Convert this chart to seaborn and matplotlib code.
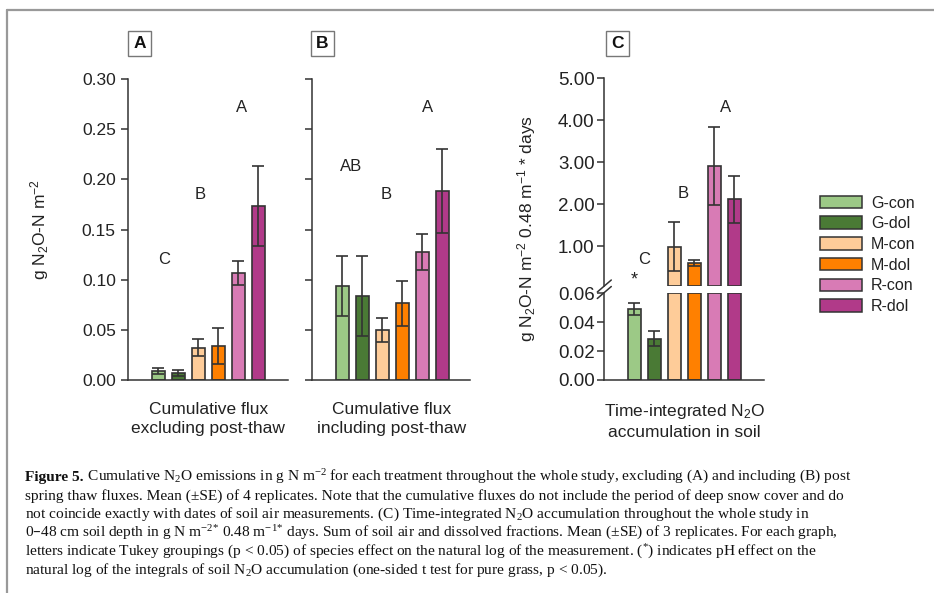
import numpy as np
import pandas as pd
import matplotlib
matplotlib.use("Agg")
import matplotlib.pyplot as plt
import seaborn as sns
from matplotlib.patches import Patch
from matplotlib.lines import Line2D

# ---------------- data ----------------
treatments = ["G-con", "G-dol", "M-con", "M-dol", "R-con", "R-dol"]
colors = ["#9cc986", "#4a7a35", "#fecc99", "#ff8000", "#d87bb5", "#b13a89"]

flux_excl = [0.0086, 0.0073, 0.032, 0.034, 0.1066, 0.1734]
flux_excl_se = [0.003, 0.003, 0.0085, 0.018, 0.0116, 0.040]
flux_incl = [0.0937, 0.084, 0.0498, 0.0764, 0.1276, 0.1887]
flux_incl_se = [0.0296, 0.040, 0.012, 0.0226, 0.018, 0.042]
soil_int = [0.0491, 0.0286, 0.998, 0.61, 2.91, 2.12]
soil_int_se = [0.004, 0.005, 0.59, 0.07, 0.92, 0.55]

letters_A = ["C", "B", "A"]
letters_B = ["AB", "B", "A"]
letters_C = ["C", "B", "A"]

ticks_A = [0.00, 0.05, 0.10, 0.15, 0.20, 0.25, 0.30]
ticks_C_up = [1.0, 2.0, 3.0, 4.0, 5.0]
ticks_C_lo = [0.00, 0.02, 0.04, 0.06]

xlabel_A = "Cumulative flux\nexcluding post-thaw"
xlabel_B = "Cumulative flux\nincluding post-thaw"
xlabel_C = "Time-integrated N$\\mathregular{_2}$O\naccumulation in soil"
ylabel_A = "g N$\\mathregular{_2}$O-N m$\\mathregular{^{-2}}$"
ylabel_C = "g N$\\mathregular{_2}$O-N m$\\mathregular{^{-2}}$ 0.48 m$\\mathregular{^{-1}}$ * days"

caption_bold = "Figure 5."
caption_lines = [
    " Cumulative N$\\mathregular{_2}$O emissions in g N m$\\mathregular{^{-2}}$ for each treatment throughout the whole study, excluding (A) and including (B) post",
    "spring thaw fluxes. Mean (\u00b1SE) of 4 replicates. Note that the cumulative fluxes do not include the period of deep snow cover and do",
    "not coincide exactly with dates of soil air measurements. (C) Time-integrated N$\\mathregular{_2}$O accumulation throughout the whole study in",
    "0\u201348 cm soil depth in g N m$\\mathregular{^{-2}}$$\\mathregular{^{*}}$ 0.48 m$\\mathregular{^{-1}}$$\\mathregular{^{*}}$ days. Sum of soil air and dissolved fractions. Mean (\u00b1SE) of 3 replicates. For each graph,",
    "letters indicate Tukey groupings (p < 0.05) of species effect on the natural log of the measurement. ($\\mathregular{^{*}}$) indicates pH effect on the",
    "natural log of the integrals of soil N$\\mathregular{_2}$O accumulation (one-sided t test for pure grass, p < 0.05).",
]

# ---------------- style ----------------
sns.set_style("white")
plt.rcParams["font.family"] = ["Liberation Sans", "DejaVu Sans"]
plt.rcParams["mathtext.default"] = "regular"

W, H = 934, 593
fig = plt.figure(figsize=(W / 100, H / 100), dpi=100)
fig.patch.set_facecolor("white")

def rect(x0, y_top, x1, y_bot):
    return [x0 / W, 1 - y_bot / H, (x1 - x0) / W, (y_bot - y_top) / H]

palette = dict(zip(treatments, colors))
EDGE = "#333333"
TXT = "#222222"

def bars(ax, vals, ses, show=None):
    df = pd.DataFrame({"treatment": treatments, "value": vals})
    sns.barplot(data=df, x="treatment", y="value", hue="treatment", order=treatments,
                hue_order=treatments, palette=palette, width=0.64, saturation=1,
                edgecolor=EDGE, linewidth=1.2, legend=False, ax=ax, errorbar=None)
    idx = np.arange(len(vals)) if show is None else np.asarray(show)
    v = np.asarray(vals)[idx]
    e = np.asarray(ses)[idx]
    ax.errorbar(idx, v, yerr=e, fmt="none", ecolor=EDGE,
                elinewidth=1.2, capsize=4.3, capthick=1.2, zorder=5)

def style(ax, left=True, bottom=True):
    for s in ["top", "right"]:
        ax.spines[s].set_visible(False)
    ax.spines["left"].set_visible(left)
    ax.spines["bottom"].set_visible(bottom)
    for s in ["left", "bottom"]:
        ax.spines[s].set_color(EDGE)
        ax.spines[s].set_linewidth(1.1)
    ax.set_xticks([])
    ax.tick_params(axis="y", direction="out", length=5, width=1.1, color=EDGE,
                   labelcolor=TXT, left=True)
    ax.set_xlim(-1.5, 6.5)
    ax.set_facecolor("none")

# ---------------- panel A ----------------
axA = fig.add_axes(rect(128.3, 79, 288.3, 380))
bars(axA, flux_excl, flux_excl_se)
style(axA)
axA.set_ylim(0, 0.30)
axA.set_yticks(ticks_A)
axA.set_yticklabels([f"{t:.2f}" for t in ticks_A], fontsize=12.5)
axA.tick_params(axis="y", pad=4)
axA.set_ylabel(ylabel_A, fontsize=12.5, color=TXT, labelpad=22)
axA.set_xlabel(xlabel_A, fontsize=12.5, color=TXT, labelpad=16, linespacing=1.3)
for t, x, y in zip(letters_A, [0.27, 2.1, 4.18], [0.12, 0.185, 0.272]):
    axA.text(x, y, t, ha="center", va="center", fontsize=12, color=TXT)

# ---------------- panel B ----------------
axB = fig.add_axes(rect(312.3, 79, 470.3, 380))
bars(axB, flux_incl, flux_incl_se)
style(axB)
axB.set_xlim(-1.5, 6.4)
axB.set_ylim(0, 0.30)
axB.set_yticks(ticks_A)
axB.set_yticklabels([])
axB.set_ylabel("")
axB.set_xlabel(xlabel_B, fontsize=12.5, color=TXT, labelpad=16, linespacing=1.3)
for t, x, y in zip(letters_B, [0.42, 2.18, 4.27], [0.2126, 0.185, 0.272]):
    axB.text(x, y, t, ha="center", va="center", fontsize=12, color=TXT)

# ---------------- panel C (broken axis) ----------------
LO_TOP = 0.06
upper_idx = [i for i, v in enumerate(soil_int) if v > LO_TOP]
lower_idx = [i for i, v in enumerate(soil_int) if v <= LO_TOP]
axCu = fig.add_axes(rect(604.3, 78.3, 764.3, 286))
axCl = fig.add_axes(rect(604.3, 293.3, 764.3, 380))
bars(axCu, soil_int, soil_int_se, show=upper_idx)
bars(axCl, soil_int, soil_int_se, show=lower_idx)
style(axCu, bottom=False)
style(axCl)
axCu.set_ylim(LO_TOP, 5.0)
axCl.set_ylim(0, LO_TOP)
# close the bar outlines at the break
for p in list(axCu.patches):
    h = p.get_height()
    if h <= LO_TOP:
        p.set_visible(False)
    else:
        p.set_y(LO_TOP)
        p.set_height(h - LO_TOP)
for p in list(axCl.patches):
    if p.get_height() > LO_TOP:
        p.set_height(LO_TOP)
axCu.set_yticks(ticks_C_up)
axCu.set_yticklabels([f"{t:.2f}" for t in ticks_C_up], fontsize=13.5)
axCl.set_yticks(ticks_C_lo)
axCl.set_yticklabels([f"{t:.2f}" for t in ticks_C_lo], fontsize=13.5)
axCu.tick_params(axis="y", pad=2)
axCl.tick_params(axis="y", pad=2)
axCu.set_ylabel("")
axCl.set_ylabel("")
axCu.set_xlabel("")
axCl.set_xlabel(xlabel_C, fontsize=12.5, color=TXT, labelpad=16, linespacing=1.3)
for t, x, y in zip(letters_C, [0.49, 2.42, 4.54], [0.70, 2.27, 4.31]):
    axCu.text(x, y, t, ha="center", va="center", fontsize=12, color=TXT)
axCu.text(0, 0.2, "*", ha="center", va="center", fontsize=13, color=TXT, clip_on=False)
fig.text(527 / W, 1 - 228 / H, ylabel_C, rotation=90, ha="center", va="center",
         fontsize=12.5, color=TXT)

# break marks
for dy in (-3.5, 3.0):
    cy = 289.5 + dy
    fig.add_artist(Line2D([(604.3 - 7) / W, (604.3 + 7) / W],
                          [1 - (cy + 6) / H, 1 - (cy - 6) / H],
                          color=EDGE, lw=1.1, transform=fig.transFigure))

# ---------------- panel boxes ----------------
for lab, cx in zip(["A", "B", "C"], [139.5, 322.5, 617.5]):
    fig.text(cx / W, 1 - 43.5 / H, lab, ha="center", va="center", fontsize=12.5,
             fontweight="bold", color="#111111",
             bbox=dict(boxstyle="square,pad=0.3", fc="white", ec="#777777", lw=1.0))

# ---------------- legend ----------------
handles = [Patch(facecolor=c, edgecolor=EDGE, linewidth=1.1) for c in colors]
fig.legend(handles, treatments, loc="upper left", bbox_to_anchor=(820 / W, 1 - 195.5 / H),
           frameon=False, fontsize=11.5, handlelength=2.6, handleheight=0.82,
           handletextpad=0.6, labelspacing=0.36, borderpad=0, borderaxespad=0,
           labelcolor=TXT)

# ---------------- figure frame ----------------
fig.add_artist(Line2D([7 / W, 1.0], [1 - 10 / H, 1 - 10 / H], color="#999999", lw=1.6,
                      transform=fig.transFigure))
fig.add_artist(Line2D([7 / W, 7 / W], [1 - 10 / H, 0.0], color="#999999", lw=1.6,
                      transform=fig.transFigure))

# ---------------- caption ----------------
CAP_FONT = ["Liberation Serif", "DejaVu Serif"]
CAP_SIZE = 11.1
y0 = 481
fig.canvas.draw()
r = fig.canvas.get_renderer()
tb = fig.text(25 / W, 1 - y0 / H, caption_bold, fontsize=CAP_SIZE, fontweight="bold",
              family=CAP_FONT, va="baseline", color="#111111")
bw = tb.get_window_extent(renderer=r).width
for i, line in enumerate(caption_lines):
    x = (25 + (bw if i == 0 else 0)) / W
    fig.text(x, 1 - (y0 + i * 18.6) / H, line, fontsize=CAP_SIZE, family=CAP_FONT,
             va="baseline", color="#111111")

fig.savefig("out.png", dpi=100, facecolor="white")
